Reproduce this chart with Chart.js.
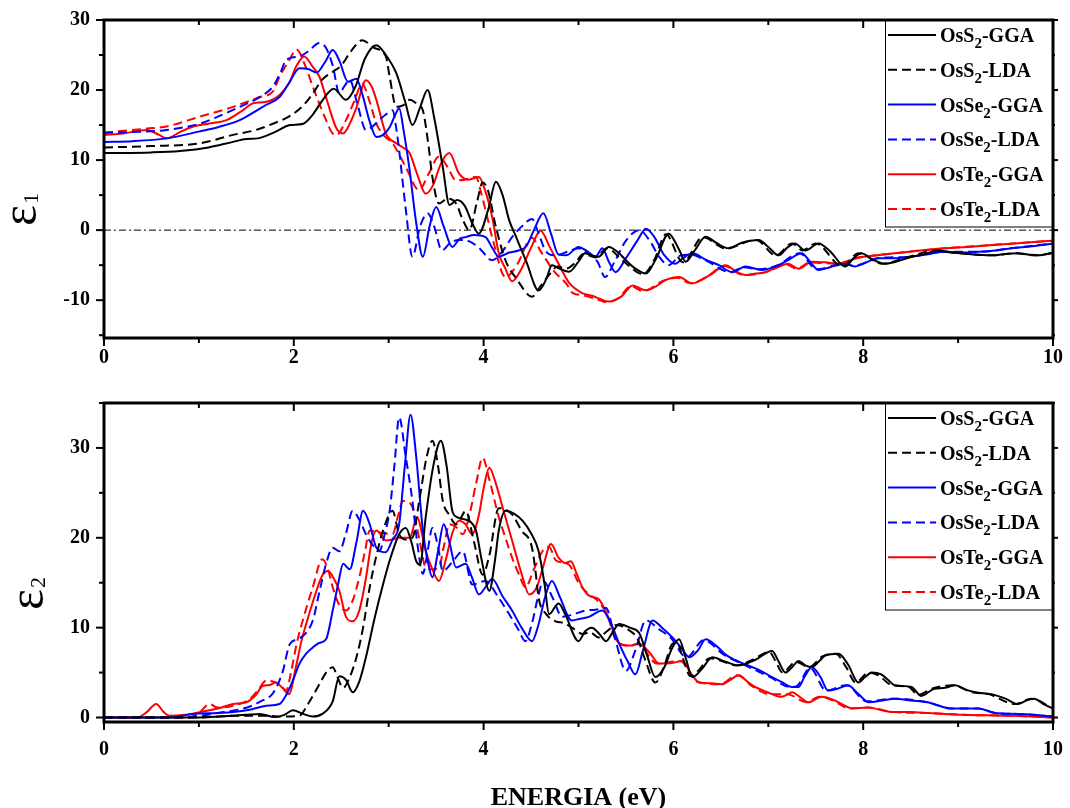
<!DOCTYPE html>
<html>
<head>
<meta charset="utf-8">
<script src="https://cdn.jsdelivr.net/npm/chart.js@4.4.1/dist/chart.umd.min.js"></script>
<style>
  body { margin: 0; background: #fff; }
  #wrap { position: relative; width: 1070px; height: 808px; }
  canvas { position: absolute; left: 0; }
</style>
</head>
<body>
<div id="wrap">
  <canvas id="eps1Chart" width="1070" height="380" style="top:0"></canvas>
  <canvas id="eps2Chart" width="1070" height="428" style="top:380px"></canvas>
</div>
<script>
/*** Data ***/

var seriesNames = ['OsS2-GGA', 'OsS2-LDA', 'OsSe2-GGA', 'OsSe2-LDA', 'OsTe2-GGA', 'OsTe2-LDA'];
var xTicks = [0, 2, 4, 6, 8, 10];
var eps1Ticks = [-10, 0, 10, 20, 30];
var eps2Ticks = [0, 10, 20, 30];

// real part, [energy eV, eps1]
var e1_S_GGA = [[0,11.0],[0.5,11.1],[0.8,11.3],[1.1,11.8],[1.36,12.6],[1.5,13.0],[1.62,13.1],[1.8,14.0],[1.96,15.0],[2.1,15.2],[2.2,16.5],[2.3,18.5],[2.42,20.2],[2.55,18.6],[2.65,20.5],[2.75,24.5],[2.87,26.4],[2.97,25],[3.08,22.4],[3.17,18.5],[3.25,15.0],[3.33,17.5],[3.41,20.0],[3.48,16],[3.57,9.0],[3.64,3.6],[3.72,4.3],[3.8,3.5],[3.88,1.0],[3.95,-0.5],[4.05,3.0],[4.13,6.9],[4.2,5.0],[4.27,1.4],[4.34,-0.9],[4.45,-4.5],[4.58,-8.6],[4.66,-7],[4.72,-5.0],[4.8,-5.5],[4.9,-5.95],[5.0,-4.5],[5.07,-3.3],[5.14,-3.6],[5.21,-3.8],[5.32,-2.4],[5.42,-3.2],[5.5,-4.3],[5.6,-5.5],[5.71,-6.2],[5.82,-4],[5.95,-0.5],[6.05,-2.5],[6.13,-4.5],[6.22,-3],[6.34,-0.95],[6.45,-1.8],[6.58,-2.6],[6.72,-1.8],[6.9,-1.4],[7.0,-2.4],[7.11,-3.6],[7.2,-2.5],[7.28,-1.9],[7.39,-2.9],[7.53,-1.9],[7.65,-3.0],[7.81,-5.2],[7.9,-4],[7.98,-3.3],[8.1,-4.2],[8.23,-4.8],[8.35,-4.5],[8.51,-3.8],[8.65,-3.4],[8.79,-2.9],[8.92,-3.2],[9.04,-3.3],[9.2,-3.5],[9.39,-3.6],[9.5,-3.4],[9.63,-3.3],[9.75,-3.5],[9.84,-3.6],[10,-3.2]];
var e1_S_LDA = [[0,11.8],[0.5,12.0],[1.01,12.4],[1.36,13.6],[1.6,14.3],[1.8,15.3],[1.96,16.3],[2.1,17.8],[2.2,19.5],[2.3,21.5],[2.41,22.6],[2.5,23.5],[2.6,25.5],[2.72,27.1],[2.85,26],[2.97,24.8],[3.01,21.9],[3.08,17.6],[3.15,17.8],[3.22,18.6],[3.3,18],[3.36,17.1],[3.42,12],[3.46,7.6],[3.53,3.8],[3.62,4.5],[3.71,3.8],[3.78,1.5],[3.85,0],[3.93,4],[3.99,6.8],[4.05,5.5],[4.12,1.0],[4.23,-4.3],[4.35,-7.0],[4.51,-9.5],[4.6,-8],[4.69,-6.4],[4.78,-5.2],[4.87,-5.5],[4.97,-4.6],[5.05,-3.4],[5.18,-3.9],[5.3,-2.6],[5.47,-4.4],[5.68,-6.3],[5.8,-4.2],[5.92,-0.6],[6.1,-4.6],[6.31,-1.0],[6.55,-2.6],[6.87,-1.4],[7.08,-3.6],[7.25,-1.9],[7.36,-2.9],[7.5,-1.9],[7.78,-5.2],[7.95,-3.3],[8.2,-4.8],[8.48,-3.8],[8.76,-2.9],[9.01,-3.3],[9.36,-3.6],[9.6,-3.3],[9.81,-3.6],[10,-3.3]];
var e1_Se_GGA = [[0,12.6],[0.3,12.7],[0.66,13.1],[1.01,14.1],[1.2,14.7],[1.43,15.7],[1.6,17.0],[1.71,17.9],[1.85,19.0],[1.95,21.0],[2.06,23.1],[2.15,23.0],[2.24,22.5],[2.33,24.0],[2.41,25.7],[2.48,24.2],[2.57,21.2],[2.66,21.6],[2.72,19.5],[2.8,15.5],[2.87,13.3],[2.94,13.6],[3.01,14.7],[3.07,16.5],[3.11,17.4],[3.16,14],[3.22,8.6],[3.29,1.0],[3.36,-3.8],[3.43,0.5],[3.5,3.3],[3.58,0.5],[3.67,-2.4],[3.75,-1.2],[3.81,-1.0],[3.9,-0.7],[4.02,-1.0],[4.09,-2.5],[4.16,-3.8],[4.27,-3.2],[4.37,-2.9],[4.45,-2.3],[4.53,0],[4.63,2.4],[4.71,-0.5],[4.79,-3.5],[4.87,-3.6],[5.0,-2.4],[5.09,-3.0],[5.18,-3.8],[5.25,-2.6],[5.32,-4.5],[5.39,-6.0],[5.5,-4],[5.62,-1.5],[5.71,0.2],[5.8,-1.0],[5.9,-3.5],[6.02,-4.8],[6.1,-4.0],[6.2,-3.3],[6.35,-4.3],[6.48,-5.0],[6.62,-6.0],[6.76,-5.2],[6.93,-5.7],[7.11,-5.0],[7.22,-4.2],[7.35,-3.3],[7.44,-4.5],[7.53,-5.7],[7.65,-5.3],[7.81,-4.8],[7.91,-5.2],[8.0,-4.8],[8.16,-4.0],[8.35,-4.0],[8.51,-3.8],[8.7,-3.4],[8.86,-3.1],[9.04,-3.2],[9.21,-3.1],[9.4,-2.9],[9.56,-2.6],[9.78,-2.3],[10,-1.9]];
var e1_Se_LDA = [[0,13.9],[0.3,14.0],[0.66,14.3],[1.01,15.2],[1.2,16.2],[1.43,17.6],[1.64,19.0],[1.78,20.5],[1.86,22.5],[1.92,24.3],[2.06,24.8],[2.15,25.5],[2.27,26.7],[2.34,26],[2.41,23.5],[2.48,19.5],[2.53,20.5],[2.59,21.4],[2.67,18],[2.76,14.3],[2.83,14.8],[2.9,15.7],[2.97,16.5],[3.04,17.1],[3.08,14.5],[3.11,11.4],[3.18,3],[3.25,-3.8],[3.33,0.5],[3.41,2.4],[3.48,0.5],[3.56,-2.9],[3.65,-1.8],[3.74,-1.4],[3.85,-1.6],[3.95,-2.5],[4.09,-4.3],[4.2,-3],[4.3,-1],[4.4,0.5],[4.51,1.6],[4.58,-0.5],[4.65,-2.9],[4.75,-3.6],[4.9,-3.0],[5.0,-2.6],[5.1,-3.4],[5.2,-4.5],[5.28,-6.7],[5.38,-4.5],[5.5,-1.5],[5.64,0],[5.75,-1.5],[5.85,-3.8],[5.95,-5.0],[6.08,-3.6],[6.18,-3.5],[6.35,-4.4],[6.6,-6.0],[6.74,-5.3],[6.9,-5.6],[7.1,-5.0],[7.33,-3.3],[7.51,-5.6],[7.8,-4.8],[7.9,-5.1],[8.15,-4.0],[8.5,-3.8],[8.85,-3.1],[9.2,-3.1],[9.55,-2.6],[10,-1.9]];
var e1_Te_GGA = [[0,13.6],[0.2,13.8],[0.45,14.3],[0.58,13.6],[0.66,13.1],[0.8,14.0],[0.94,14.8],[1.1,15.2],[1.29,15.7],[1.45,17.0],[1.57,18.1],[1.7,18.3],[1.85,19.3],[1.95,21.0],[2.03,23.5],[2.11,24.8],[2.2,23.3],[2.27,21.9],[2.35,18.5],[2.45,14.5],[2.52,13.8],[2.59,15.2],[2.66,17.5],[2.76,21.4],[2.82,20.5],[2.87,18.6],[2.97,13.8],[3.08,12.4],[3.15,11.8],[3.22,11.0],[3.3,8.0],[3.39,5.2],[3.47,6.5],[3.55,9.5],[3.64,11.0],[3.74,8.1],[3.84,7.2],[3.95,7.6],[4.02,5.5],[4.09,1.9],[4.16,-3.3],[4.23,-5.5],[4.3,-7.3],[4.4,-5.5],[4.5,-2.5],[4.6,-0.1],[4.7,-2.5],[4.79,-4.8],[4.9,-7.5],[5.04,-9.0],[5.15,-9.4],[5.22,-9.8],[5.32,-10.2],[5.45,-9.5],[5.57,-7.9],[5.71,-8.6],[5.82,-8.0],[5.92,-7.1],[6.06,-6.7],[6.2,-7.6],[6.3,-7.1],[6.41,-6.2],[6.55,-5.0],[6.65,-5.8],[6.76,-6.4],[6.87,-6.2],[6.97,-6.0],[7.08,-5.4],[7.21,-4.8],[7.32,-5.5],[7.46,-4.5],[7.6,-4.6],[7.74,-4.8],[7.95,-3.9],[8.15,-3.6],[8.33,-3.3],[8.6,-2.9],[8.86,-2.6],[9.1,-2.4],[9.39,-2.1],[9.7,-1.8],[10,-1.5]];
var e1_Te_LDA = [[0,13.9],[0.45,14.5],[0.66,14.8],[1.01,16.2],[1.36,17.6],[1.64,19.0],[1.78,19.8],[1.85,21.9],[1.95,24.2],[2.03,25.8],[2.12,23.5],[2.2,20.5],[2.34,15.7],[2.41,13.8],[2.45,13.6],[2.55,15.7],[2.64,18.5],[2.72,20.9],[2.8,18.3],[2.87,15.2],[2.95,13.5],[3.04,12.4],[3.18,9.0],[3.32,5.7],[3.42,8.0],[3.53,10.5],[3.62,9.0],[3.71,7.1],[3.8,7.2],[3.92,7.6],[3.97,5.5],[4.02,2.9],[4.1,-1.5],[4.23,-6.7],[4.35,-5.0],[4.51,-1.1],[4.6,-3],[4.75,-6.0],[4.87,-7.6],[4.94,-9.0],[5.05,-9.3],[5.2,-9.9],[5.3,-10.3],[5.43,-9.6],[5.55,-8.0],[5.68,-8.7],[5.9,-7.2],[6.04,-6.8],[6.18,-7.6],[6.39,-6.3],[6.53,-5.1],[6.74,-6.4],[6.95,-6.1],[7.19,-4.9],[7.3,-5.5],[7.44,-4.6],[7.72,-4.8],[7.93,-4.0],[8.33,-3.3],[8.86,-2.6],[9.39,-2.1],[10,-1.5]];

// imaginary part, [energy eV, eps2]
var e2_S_GGA = [[0,0],[1.0,0],[1.36,0.2],[1.5,0.3],[1.64,0.4],[1.8,0.05],[1.9,0.3],[1.99,0.8],[2.1,0.4],[2.2,0.1],[2.3,0.4],[2.41,1.8],[2.48,4.6],[2.55,4.2],[2.62,2.8],[2.69,4],[2.76,6.7],[2.85,11],[2.94,14.8],[3.02,17.8],[3.11,20.4],[3.18,21.1],[3.24,19.5],[3.29,17.4],[3.33,17.0],[3.39,22.3],[3.47,28],[3.55,30.8],[3.61,28],[3.67,23.0],[3.72,22.3],[3.78,22.1],[3.86,21.8],[3.92,20.8],[3.98,17.5],[4.06,14.1],[4.12,17.5],[4.16,20.8],[4.23,23.0],[4.32,22.7],[4.41,21.9],[4.5,20.5],[4.58,18.5],[4.64,15],[4.69,11.5],[4.79,12.7],[4.86,11.5],[5.0,8.5],[5.07,9.6],[5.14,10.0],[5.22,9.3],[5.29,8.5],[5.36,9.5],[5.43,10.4],[5.54,10.0],[5.64,9.4],[5.72,7],[5.81,4.5],[5.9,5.5],[5.99,7.8],[6.06,8.7],[6.13,6.6],[6.2,4.5],[6.3,5.4],[6.41,6.7],[6.55,6.2],[6.69,5.8],[6.86,6.4],[7.04,7.4],[7.11,6.2],[7.18,5.0],[7.25,5.6],[7.32,6.3],[7.39,5.8],[7.46,5.6],[7.53,6.2],[7.6,6.9],[7.74,7.1],[7.84,5.9],[7.95,3.9],[8.02,4.5],[8.09,5.0],[8.19,4.8],[8.26,4.2],[8.33,3.6],[8.51,3.4],[8.61,2.4],[8.75,3.2],[8.86,3.3],[8.97,3.6],[9.08,3.1],[9.18,2.8],[9.35,2.6],[9.5,2.1],[9.63,1.5],[9.72,1.9],[9.8,2.1],[9.9,1.5],[10,1.0]];
var e2_S_LDA = [[0,0],[1.0,0],[1.4,0.2],[1.7,0.2],[1.9,0.1],[2.06,0.2],[2.15,1.5],[2.27,3.7],[2.34,5.0],[2.41,5.6],[2.46,4.5],[2.52,3.3],[2.59,4.5],[2.66,6.7],[2.73,10],[2.8,14.5],[2.87,18],[2.94,20.8],[3.04,23.0],[3.11,20.4],[3.18,19.8],[3.25,20.0],[3.32,24],[3.4,29],[3.46,30.8],[3.52,28],[3.57,24.1],[3.64,22.5],[3.71,21.5],[3.76,22.2],[3.81,23.0],[3.9,19.5],[3.99,15.9],[4.06,18],[4.16,23.3],[4.22,23.2],[4.3,22.6],[4.4,20.8],[4.51,18.9],[4.55,16],[4.58,13.3],[4.66,11.5],[4.76,10.7],[4.85,10.5],[4.93,10.0],[5.05,9.3],[5.12,9.5],[5.21,8.9],[5.3,9.6],[5.4,10.3],[5.52,9.8],[5.62,8.8],[5.7,6.5],[5.81,3.9],[5.9,5.6],[5.99,8.2],[6.04,8.3],[6.1,6.6],[6.18,4.6],[6.27,5.3],[6.38,6.6],[6.53,6.2],[6.66,5.8],[6.83,6.4],[7.01,7.3],[7.08,6.2],[7.15,5.0],[7.29,6.2],[7.43,5.6],[7.57,6.8],[7.71,7.1],[7.82,5.6],[7.92,3.9],[8.06,5.0],[8.16,4.7],[8.3,3.6],[8.48,3.4],[8.58,2.5],[8.72,3.2],[8.94,3.6],[9.15,2.8],[9.32,2.6],[9.6,1.5],[9.77,2.1],[10,1.0]];
var e2_Se_GGA = [[0,0],[0.7,0],[0.94,0.4],[1.2,0.5],[1.36,0.6],[1.55,0.9],[1.71,1.3],[1.85,1.5],[1.92,2.5],[1.99,4.1],[2.06,6.0],[2.13,7.1],[2.2,7.8],[2.27,8.3],[2.34,8.7],[2.41,11.9],[2.47,15],[2.52,17.1],[2.59,16.5],[2.66,19.5],[2.73,23.0],[2.8,21.5],[2.87,18.9],[2.97,18.4],[3.04,19.8],[3.11,21.5],[3.17,28],[3.23,33.7],[3.29,29],[3.36,20.8],[3.41,17.5],[3.46,15.6],[3.52,18.5],[3.58,21.5],[3.64,19.5],[3.71,16.7],[3.81,17.1],[3.88,15.5],[3.95,13.7],[4.02,14.5],[4.09,15.4],[4.2,13.5],[4.3,11.9],[4.4,10],[4.51,8.5],[4.58,10.4],[4.65,13.5],[4.72,15.2],[4.8,13.5],[4.93,10.8],[5.02,11.0],[5.11,11.2],[5.25,11.9],[5.34,10.5],[5.43,8.2],[5.52,6.2],[5.6,4.8],[5.68,7.5],[5.78,10.8],[5.88,10.0],[5.99,8.9],[6.08,7.8],[6.17,6.7],[6.26,7.5],[6.34,8.7],[6.45,8.0],[6.55,7.0],[6.65,6.4],[6.76,5.9],[6.9,5.3],[7.04,4.5],[7.15,3.9],[7.25,3.4],[7.32,3.4],[7.38,4.5],[7.46,5.6],[7.55,4.5],[7.63,3.0],[7.73,3.2],[7.84,3.6],[7.95,2.6],[8.06,1.7],[8.2,1.9],[8.33,2.1],[8.5,1.9],[8.68,1.7],[8.8,1.3],[8.93,1.0],[9.1,1.0],[9.21,1.0],[9.39,0.5],[9.63,0.4],[9.8,0.3],[10,0.1]];
var e2_Se_LDA = [[0,0],[0.8,0],[1.2,0.5],[1.53,1.2],[1.65,1.8],[1.78,2.7],[1.88,5],[1.96,8.2],[2.06,8.8],[2.2,10.8],[2.27,14],[2.34,17.1],[2.41,18.9],[2.48,18.5],[2.55,20.5],[2.62,23.0],[2.69,22],[2.76,20.4],[2.83,19.2],[2.9,18.5],[2.96,20.5],[3.01,23.0],[3.06,28],[3.11,33.4],[3.18,29],[3.25,24.1],[3.3,19.5],[3.36,16.0],[3.41,18.5],[3.46,21.1],[3.52,19],[3.57,16.3],[3.67,17.3],[3.78,18.5],[3.88,14.8],[4.02,15.2],[4.16,13.3],[4.27,11.5],[4.37,9.7],[4.44,8.5],[4.51,10.5],[4.58,13.7],[4.63,15.2],[4.72,13.5],[4.83,11.2],[4.95,11.5],[5.07,11.9],[5.18,12.0],[5.29,12.2],[5.38,9.0],[5.5,5.2],[5.6,7.5],[5.71,10.8],[5.85,9.8],[5.97,8.9],[6.14,6.7],[6.32,8.6],[6.53,7.0],[6.74,5.9],[7.02,4.5],[7.23,3.4],[7.3,3.5],[7.44,5.5],[7.61,3.0],[7.82,3.6],[8.04,1.8],[8.33,2.1],[8.68,1.7],[8.93,1.0],[9.21,1.0],[9.39,0.5],[9.63,0.4],[10,0.1]];
var e2_Te_GGA = [[0,0],[0.35,0],[0.45,0.6],[0.55,1.5],[0.63,0.6],[0.69,0.2],[0.85,0.3],[1.01,0.6],[1.2,1.0],[1.36,1.5],[1.5,1.7],[1.6,2.5],[1.67,3.5],[1.74,3.6],[1.81,3.9],[1.88,3.3],[1.95,2.6],[2.02,5.5],[2.08,8.5],[2.13,10.4],[2.22,13.5],[2.3,15.8],[2.36,16.3],[2.42,15.5],[2.48,14.1],[2.55,11.2],[2.62,10.7],[2.69,11.9],[2.76,15.5],[2.82,19.5],[2.87,20.8],[2.97,19.7],[3.04,19.8],[3.11,20.0],[3.22,20.0],[3.3,22.3],[3.35,20.5],[3.39,18.5],[3.46,16.5],[3.53,15.2],[3.6,17.5],[3.67,20.5],[3.74,21.9],[3.81,21.5],[3.88,20.4],[3.95,22.5],[4.0,25.5],[4.06,27.8],[4.13,26],[4.2,23.4],[4.3,19.7],[4.4,16],[4.48,13.7],[4.56,14.5],[4.62,16.5],[4.71,19.3],[4.79,17.8],[4.86,17.2],[4.92,17.4],[4.98,16],[5.04,14.5],[5.12,13.5],[5.21,13.2],[5.3,11.5],[5.43,8.2],[5.54,8.0],[5.64,8.2],[5.75,7.2],[5.85,6.0],[6.0,6.1],[6.09,6.3],[6.18,5.0],[6.27,3.9],[6.4,3.8],[6.51,3.7],[6.6,4.2],[6.69,4.7],[6.78,4.0],[6.86,3.4],[6.95,3.0],[7.04,2.6],[7.13,2.3],[7.21,2.6],[7.25,2.8],[7.33,2.3],[7.42,1.7],[7.56,2.3],[7.7,1.9],[7.79,1.4],[7.88,1.0],[8.06,1.1],[8.2,0.8],[8.33,0.6],[8.5,0.6],[8.68,0.5],[8.86,0.4],[9.04,0.3],[9.3,0.25],[9.56,0.2],[9.8,0.1],[10,0]];
var e2_Te_LDA = [[0,0],[0.9,0],[1.01,0.6],[1.11,1.5],[1.2,1.1],[1.36,1.3],[1.53,2.0],[1.62,3.0],[1.71,4.1],[1.78,4.0],[1.85,3.7],[1.92,3.0],[1.97,5],[2.03,8.2],[2.1,11],[2.2,14.5],[2.3,17.6],[2.36,16.5],[2.41,14.5],[2.48,12.5],[2.55,11.9],[2.62,13],[2.69,15.6],[2.75,18.5],[2.8,20.8],[2.9,20.6],[3.04,20.4],[3.1,22.5],[3.15,24.1],[3.2,24],[3.25,23.4],[3.32,20],[3.39,16.7],[3.46,16.5],[3.53,16.7],[3.58,19],[3.64,21.5],[3.71,21.2],[3.78,20.4],[3.85,22.5],[3.92,26],[3.99,28.9],[4.06,26.5],[4.16,22.3],[4.23,20],[4.3,17.8],[4.37,16],[4.44,14.5],[4.53,16.5],[4.62,18.5],[4.69,19.0],[4.76,17.5],[4.9,17.0],[5.0,15.0],[5.1,13.8],[5.2,13.0],[5.3,11.5],[5.4,8.5],[5.55,8.0],[5.62,8.2],[5.83,6.0],[6.07,6.3],[6.25,4.0],[6.49,3.7],[6.67,4.7],[6.84,3.4],[7.02,2.6],[7.2,2.6],[7.4,1.7],[7.54,2.3],[7.68,1.9],[7.86,1.0],[8.04,1.1],[8.33,0.6],[8.68,0.5],[9.04,0.3],[9.56,0.2],[10,0]];

/*** Styles ***/

var lineColors = ['#000000', '#000000', '#0000ff', '#0000ff', '#ff0000', '#ff0000'];
var lineDash = [[], [9, 5], [], [9, 5], [], [9, 5]];
var serif = '"Liberation Serif", "Times New Roman", serif';

function makeSets(list) {
  return list.map(function(pts, i) {
    return {
      label: seriesNames[i],
      data: pts.map(function(p) { return {x: p[0], y: p[1]}; }),
      borderColor: lineColors[i],
      borderDash: lineDash[i],
      borderWidth: 2,
      pointRadius: 0,
      fill: false,
      cubicInterpolationMode: 'monotone'
    };
  });
}

function strokeLine(ctx, x1, y1, x2, y2) {
  ctx.beginPath(); ctx.moveTo(x1, y1); ctx.lineTo(x2, y2); ctx.stroke();
}

// text with digits as subscripts, e.g. OsS2-GGA
function drawSubText(ctx, txt, x, y, size) {
  var parts = txt.match(/^(\D+)(\d)(.*)$/);
  ctx.font = 'bold ' + size + 'px ' + serif;
  ctx.fillText(parts[1], x, y);
  x += ctx.measureText(parts[1]).width;
  ctx.font = 'bold ' + Math.round(size * 0.75) + 'px ' + serif;
  ctx.fillText(parts[2], x, y + 6);
  x += ctx.measureText(parts[2]).width;
  ctx.font = 'bold ' + size + 'px ' + serif;
  ctx.fillText(parts[3], x, y);
}

/*** frame, ticks, legend and labels ***/

var framePlugin = {
  id: 'frame',
  beforeDatasetsDraw: function(chart, args, opts) {
    if (!opts.zeroLine) return;
    var ctx = chart.ctx, a = chart.chartArea;
    var y0 = chart.scales.y.getPixelForValue(0);
    ctx.save();
    ctx.strokeStyle = '#000';
    ctx.lineWidth = 1;
    ctx.setLineDash([7, 3, 2, 3]);
    strokeLine(ctx, a.left, y0, a.right, y0);
    ctx.restore();
  },
  afterDraw: function(chart, args, opts) {
    var ctx = chart.ctx, a = chart.chartArea;
    var xs = chart.scales.x, ys = chart.scales.y;
    var v, p, len;
    ctx.save();
    ctx.strokeStyle = '#000';
    ctx.fillStyle = '#000';

    // tick marks
    ctx.lineWidth = 2;
    for (v = 0; v <= 10; v += 1) {
      p = xs.getPixelForValue(v);
      len = (v % 2 === 0) ? 8 : 5;
      strokeLine(ctx, p, a.bottom, p, a.bottom + len);
      strokeLine(ctx, p, a.top, p, a.top + len);
    }
    for (v = Math.ceil(ys.min / 5) * 5; v <= ys.max; v += 5) {
      p = ys.getPixelForValue(v);
      len = (v % 10 === 0) ? 8 : 5;
      strokeLine(ctx, a.left - len, p, a.left, p);
      strokeLine(ctx, a.right, p, a.right + len - 3, p);
    }

    // legend box
    var bx = 885, by = a.top, bw = a.right - 885, bh = 207;
    ctx.fillStyle = '#fff';
    ctx.fillRect(bx, by, bw, bh);
    ctx.lineWidth = 1;
    ctx.strokeRect(bx + 0.5, by, bw, bh);
    ctx.fillStyle = '#000';
    ctx.textBaseline = 'alphabetic';
    ctx.textAlign = 'left';
    chart.data.datasets.forEach(function(ds, i) {
      var cy = a.top + 15 + i * 34.8;
      ctx.save();
      ctx.strokeStyle = ds.borderColor;
      ctx.lineWidth = 2;
      ctx.setLineDash(ds.borderDash);
      strokeLine(ctx, 888, cy, 936, cy);
      ctx.restore();
      drawSubText(ctx, ds.label, 940, cy + 7, 20);
    });

    // frame
    ctx.lineWidth = 3;
    ctx.strokeRect(a.left, a.top, a.right - a.left, a.bottom - a.top);

    // epsilon label, rotated
    ctx.save();
    ctx.translate(opts.epsX, opts.epsY);
    ctx.rotate(-Math.PI / 2);
    ctx.font = '50px ' + serif;
    ctx.fillText('\u03b5', 0, 0);
    var w = ctx.measureText('\u03b5').width;
    ctx.font = '22px ' + serif;
    ctx.fillText(opts.epsSub, w + 1, 2);
    ctx.restore();

    // x title
    if (opts.xTitle) {
      ctx.font = 'bold 26px ' + serif;
      ctx.textAlign = 'center';
      ctx.fillText(opts.xTitle, (a.left + a.right) / 2, opts.xTitleY);
    }
    ctx.restore();
  }
};

function makeChart(id, sets, yMin, yMax, yTicks, top, bottom, h, xPad, extra) {
  return new Chart(document.getElementById(id), {
    type: 'line',
    data: { datasets: makeSets(sets) },
    options: {
      responsive: false,
      animation: false,
      devicePixelRatio: 1,
      layout: { padding: { left: 0, right: 17, top: top, bottom: 0 } },
      plugins: { legend: { display: false }, tooltip: { enabled: false }, frame: extra },
      scales: {
        x: {
          type: 'linear', min: 0, max: 10,
          afterBuildTicks: function(s) { s.ticks = xTicks.map(function(v) { return {value: v}; }); },
          afterFit: function(s) { s.height = h - bottom; s.paddingLeft = 0; s.paddingRight = 0; },
          grid: { display: false, drawTicks: false },
          border: { display: false },
          ticks: { color: '#000', padding: xPad, maxRotation: 0, font: { family: serif, weight: 'bold', size: 20 } }
        },
        y: {
          type: 'linear', min: yMin, max: yMax,
          afterBuildTicks: function(s) { s.ticks = yTicks.map(function(v) { return {value: v}; }); },
          afterFit: function(s) { s.width = 104; s.paddingTop = 0; s.paddingBottom = 0; },
          grid: { display: false, drawTicks: false },
          border: { display: false },
          ticks: { color: '#000', padding: 14, font: { family: serif, weight: 'bold', size: 20 } }
        }
      }
    },
    plugins: [framePlugin]
  });
}

var eps1Chart = makeChart('eps1Chart',
  [e1_S_GGA, e1_S_LDA, e1_Se_GGA, e1_Se_LDA, e1_Te_GGA, e1_Te_LDA],
  -15.4, 30, eps1Ticks, 20, 338, 380, 8,
  { zeroLine: true, epsX: 36, epsY: 226, epsSub: '1' });

var eps2Chart = makeChart('eps2Chart',
  [e2_S_GGA, e2_S_LDA, e2_Se_GGA, e2_Se_LDA, e2_Te_GGA, e2_Te_LDA],
  -0.5, 35, eps2Ticks, 23, 342, 428, 16,
  { zeroLine: false, epsX: 43, epsY: 230, epsSub: '2', xTitle: 'ENERGIA (eV)', xTitleY: 425 });
</script>
</body>
</html>
